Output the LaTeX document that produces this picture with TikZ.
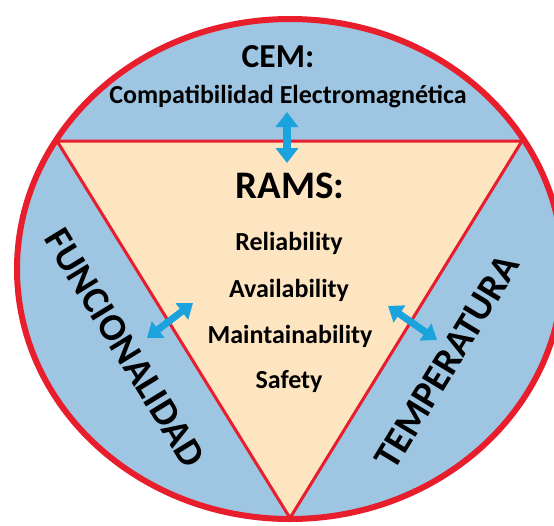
\documentclass[tikz,border=0pt]{standalone}
\usepackage{fontspec}
\setmainfont{Carlito}
\usetikzlibrary{arrows.meta}

\definecolor{ringblue}{RGB}{158,198,226}
\definecolor{peach}{RGB}{253,229,194}
\definecolor{rimred}{RGB}{232,30,44}
\definecolor{linkcyan}{RGB}{26,163,220}

\tikzset{
  label/.style={text=black, inner sep=0pt},
  item/.style={label, font=\fontsize{26}{26}\selectfont\bfseries, anchor=base},
  side/.style={label, font=\fontsize{38.5}{38.5}\selectfont\bfseries},
  link/.style={linkcyan, line width=7.5pt,
    {Triangle[width=22pt,length=15pt]}-{Triangle[width=22pt,length=15pt]}},
  sidelink/.style={linkcyan, line width=7pt,
    {Triangle[width=20pt,length=14pt]}-{Triangle[width=20pt,length=14pt]}}
}

\begin{document}
\begin{tikzpicture}[x=1pt,y=-1pt]
  \useasboundingbox (0,0) rectangle (554,525);
  \clip (0,0) rectangle (554,525);

  % outer disc and inner triangle
  \coordinate (o)  at (290,269);
  \coordinate (tl) at (57,141);
  \coordinate (tr) at (522,141);
  \coordinate (bt) at (290,518);
  \fill[ringblue] (o) ellipse [x radius=273pt, y radius=250pt];
  \fill[peach] (tl) -- (tr) -- (bt) -- cycle;
  \draw[rimred, line width=3pt, line join=round] (tl) -- (tr) -- (bt) -- cycle;
  \draw[rimred, line width=6pt] (o) ellipse [x radius=273pt, y radius=250pt];

  % top segment
  \node[label, font=\fontsize{33.5}{33.5}\selectfont\bfseries, anchor=base] (cem) at (278,67) {CEM:};
  \node[label, font=\fontsize{26}{26}\selectfont\bfseries, anchor=base] (cemfull) at (288,103) {Compatibilidad Electromagnética};

  % centre list
  \node[label, font=\fontsize{39}{39}\selectfont\bfseries, anchor=base] (rams) at (290,198) {RAMS:};
  \node[item] (rel) at (289,250) {Reliability};
  \node[item] (ava) at (289,297) {Availability};
  \node[item] (mai) at (290,343) {Maintainability};
  \node[item] (saf) at (289,388) {Safety};

  % side segments
  \node[side, rotate=-58.5] (func) at (125,348) {FUNCIONALIDAD};
  \node[side, rotate=58.7] (temp) at (447,362) {TEMPERATURA};

  % links between segments
  \coordinate (cemlink)  at (287,112);
  \coordinate (ramslink) at (287,163);
  \draw[link] (cemlink) -- (ramslink);

  \coordinate (funclink) at (147,338);
  \coordinate (lefttip)  at (193,303);
  \draw[sidelink] (funclink) -- (lefttip);

  \coordinate (righttip) at (388,306);
  \coordinate (templink) at (437,340);
  \draw[sidelink] (righttip) -- (templink);
\end{tikzpicture}
\end{document}
